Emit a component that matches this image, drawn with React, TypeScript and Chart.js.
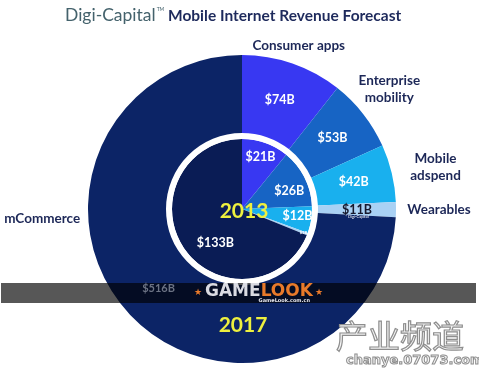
import React, { useEffect, useRef } from 'react';
import { Chart, registerables } from 'chart.js';

Chart.register(...registerables);

// ---- data ----
const categories = ['Consumer apps', 'Enterprise mobility', 'Mobile adspend', 'Wearables', 'mCommerce'];
const categoryLines = [['Consumer apps'], ['Enterprise', 'mobility'], ['Mobile', 'adspend'], ['Wearables'], ['mCommerce']];
const values2017 = [74, 53, 42, 11, 516];
const values2013 = [21, 26, 12, 1, 133];
const valueLabels2017 = ['$74B', '$53B', '$42B', '$11B', '$516B'];
const valueLabels2013 = ['$21B', '$26B', '$12B', '$1B', '$133B'];
const yearLabels = ['2017', '2013'];
const titleBrand = 'Digi-Capital';
const titleText = 'Mobile Internet Revenue Forecast';

// ---- style ----
const outerColors = ['#3838f2', '#1764c4', '#19b0ee', '#a9d1f4', '#0c2466'];
const innerColors = ['#3838f2', '#1764c4', '#19b0ee', '#a9d1f4', '#0a1c55'];
const labelColor = '#1c2757';

// per-label layout tweaks (radial factor, angle shift in degrees)
const innerLabelRadius = [0.79, 0.72, 0.8, 0.94, 0.62];
const innerLabelShift = [0, 6, -2, 0, -18];
const outerCatExtra = [19, 33, 45, 43, 46];
const outerCatDy = [0, -5, 4, 0, 2];

const deg = Math.PI / 180;

const overlayPlugin = {
  id: 'overlay',
  afterDraw(chart: any) {
    const ctx = chart.ctx as CanvasRenderingContext2D;
    const outer = chart.getDatasetMeta(0).data;
    const inner = chart.getDatasetMeta(2).data;
    ctx.save();

    // title
    ctx.textAlign = 'left';
    ctx.textBaseline = 'alphabetic';
    ctx.fillStyle = '#44626c';
    ctx.font = '17.5px Lato';
    ctx.fillText(titleBrand, 65, 21);
    const bw = ctx.measureText(titleBrand).width;
    ctx.font = '5px Lato';
    ctx.fillText('TM', 65 + bw + 1, 11);
    ctx.fillStyle = '#1e2a5c';
    ctx.font = 'bold 15.5px Lato';
    ctx.fillText(titleText, 168, 21);

    ctx.textAlign = 'center';
    ctx.textBaseline = 'middle';

    // outer value labels
    outer.forEach((arc: any, i: number) => {
      const p = arc.getProps(['x', 'y', 'startAngle', 'endAngle', 'innerRadius', 'outerRadius'], true);
      const mid = (p.startAngle + p.endAngle) / 2;
      const r = (p.innerRadius + p.outerRadius) / 2;
      const lx = p.x + Math.cos(mid) * r;
      const ly = p.y + Math.sin(mid) * r;
      if (i === 4) return; // drawn on band later
      ctx.font = 'bold 12.5px Lato';
      ctx.fillStyle = i === 3 ? '#16182c' : '#ffffff';
      ctx.fillText(valueLabels2017[i], lx, ly);
      if (i === 3) {
        ctx.font = '4px Lato';
        ctx.fillStyle = '#ffffff';
        ctx.fillText('* Digi-Capital', lx, ly + 7);
      }
    });

    // category labels outside
    outer.forEach((arc: any, i: number) => {
      const p = arc.getProps(['x', 'y', 'startAngle', 'endAngle', 'outerRadius'], true);
      let mid = (p.startAngle + p.endAngle) / 2;
      if (i === 4) mid = Math.PI - 0.04;
      const r = p.outerRadius + outerCatExtra[i];
      const lx = p.x + Math.cos(mid) * r;
      const ly = p.y + Math.sin(mid) * r + outerCatDy[i];
      const lines = categoryLines[i];
      ctx.font = 'bold 13.5px Lato';
      ctx.fillStyle = labelColor;
      const lh = 17;
      lines.forEach((t, k) => {
        ctx.fillText(t, lx, ly + (k - (lines.length - 1) / 2) * lh);
      });
    });

    // inner value labels
    inner.forEach((arc: any, i: number) => {
      const p = arc.getProps(['x', 'y', 'startAngle', 'endAngle', 'outerRadius'], true);
      const mid = (p.startAngle + p.endAngle) / 2 + innerLabelShift[i] * deg;
      const r = p.outerRadius * innerLabelRadius[i];
      const lx = p.x + Math.cos(mid) * r;
      const ly = p.y + Math.sin(mid) * r;
      ctx.fillStyle = '#ffffff';
      ctx.font = i === 3 ? 'bold 4px Lato' : 'bold 12.5px Lato';
      ctx.fillText(valueLabels2013[i], lx, ly);
    });

    const c = outer[0].getProps(['x', 'y', 'innerRadius', 'outerRadius'], true);

    // year labels
    ctx.fillStyle = '#eef03e';
    ctx.font = 'bold 21px Lato';
    ctx.fillText(yearLabels[1], c.x + 2, c.y + 2);
    ctx.fillText(yearLabels[0], c.x + 1, c.y + (c.innerRadius + c.outerRadius) / 2 + 1);

    // watermark band
    ctx.fillStyle = 'rgba(0,0,0,0.66)';
    ctx.fillRect(1, 283, 475, 20);

    // mCommerce 2017 value on band
    const m = outer[4].getProps(['x', 'y', 'startAngle', 'endAngle', 'innerRadius', 'outerRadius'], true);
    const mm = (m.startAngle + m.endAngle) / 2;
    const mr = (m.innerRadius + m.outerRadius) / 2;
    ctx.font = 'bold 11px Lato';
    ctx.fillStyle = '#6c7384';
    ctx.fillText(valueLabels2017[4], m.x + Math.cos(mm) * mr, m.y + Math.sin(mm) * mr);

    // GAMELOOK watermark
    ctx.textAlign = 'left';
    ctx.font = 'bold 17px "DejaVu Sans"';
    ctx.fillStyle = '#dadbe2';
    ctx.fillText('GAME', 205, 292);
    const gw = ctx.measureText('GAME').width;
    ctx.fillStyle = '#e97a2a';
    ctx.fillText('LOOK', 205 + gw, 292);
    const lw = ctx.measureText('LOOK').width;
    ctx.font = '9px "DejaVu Sans"';
    ctx.fillText('\u2605', 194, 293);
    ctx.fillText('\u2605', 207 + gw + lw, 293);
    ctx.font = 'bold 5px "DejaVu Sans"';
    ctx.fillStyle = '#e8e8ee';
    ctx.textAlign = 'right';
    ctx.fillText('GameLook.com.cn', 310, 301);

    // 产业频道 watermark
    ctx.textAlign = 'left';
    ctx.font = '32px "Noto Sans CJK SC"';
    ctx.lineWidth = 1.2;
    ctx.strokeStyle = '#8e8e8e';
    ctx.fillStyle = '#f4f4f4';
    ctx.fillText('产业频道', 336, 336);
    ctx.strokeText('产业频道', 336, 336);
    ctx.font = 'bold 13px "DejaVu Sans"';
    ctx.lineWidth = 1;
    ctx.fillText('chanye.07073.com', 346, 361);
    ctx.strokeText('chanye.07073.com', 346, 361);

    ctx.restore();
  },
};

export default function App() {
  const ref = useRef<HTMLCanvasElement | null>(null);
  useEffect(() => {
    if (!ref.current) return;
    const chart = new Chart(ref.current, {
      type: 'doughnut',
      data: {
        labels: categories,
        datasets: [
          { label: yearLabels[0], data: values2017, backgroundColor: outerColors, borderWidth: 0, weight: 78 },
          { label: 'ring', data: [1], backgroundColor: ['#ffffff'], borderWidth: 0, weight: 6 },
          { label: yearLabels[1], data: values2013, backgroundColor: innerColors, borderWidth: 0, weight: 70 },
        ],
      },
      options: {
        responsive: false,
        animation: false,
        cutout: 0,
        layout: { padding: { left: 88, right: 83, top: 55, bottom: 7 } },
        plugins: { legend: { display: false }, tooltip: { enabled: false }, title: { display: false } },
      },
      plugins: [overlayPlugin],
    } as any);
    return () => chart.destroy();
  }, []);
  return (
    <div style={{ position: 'fixed', left: 0, top: 0, width: 479, height: 370, background: '#ffffff' }}>
      <canvas ref={ref} width={479} height={370} style={{ display: 'block' }} />
    </div>
  );
}
